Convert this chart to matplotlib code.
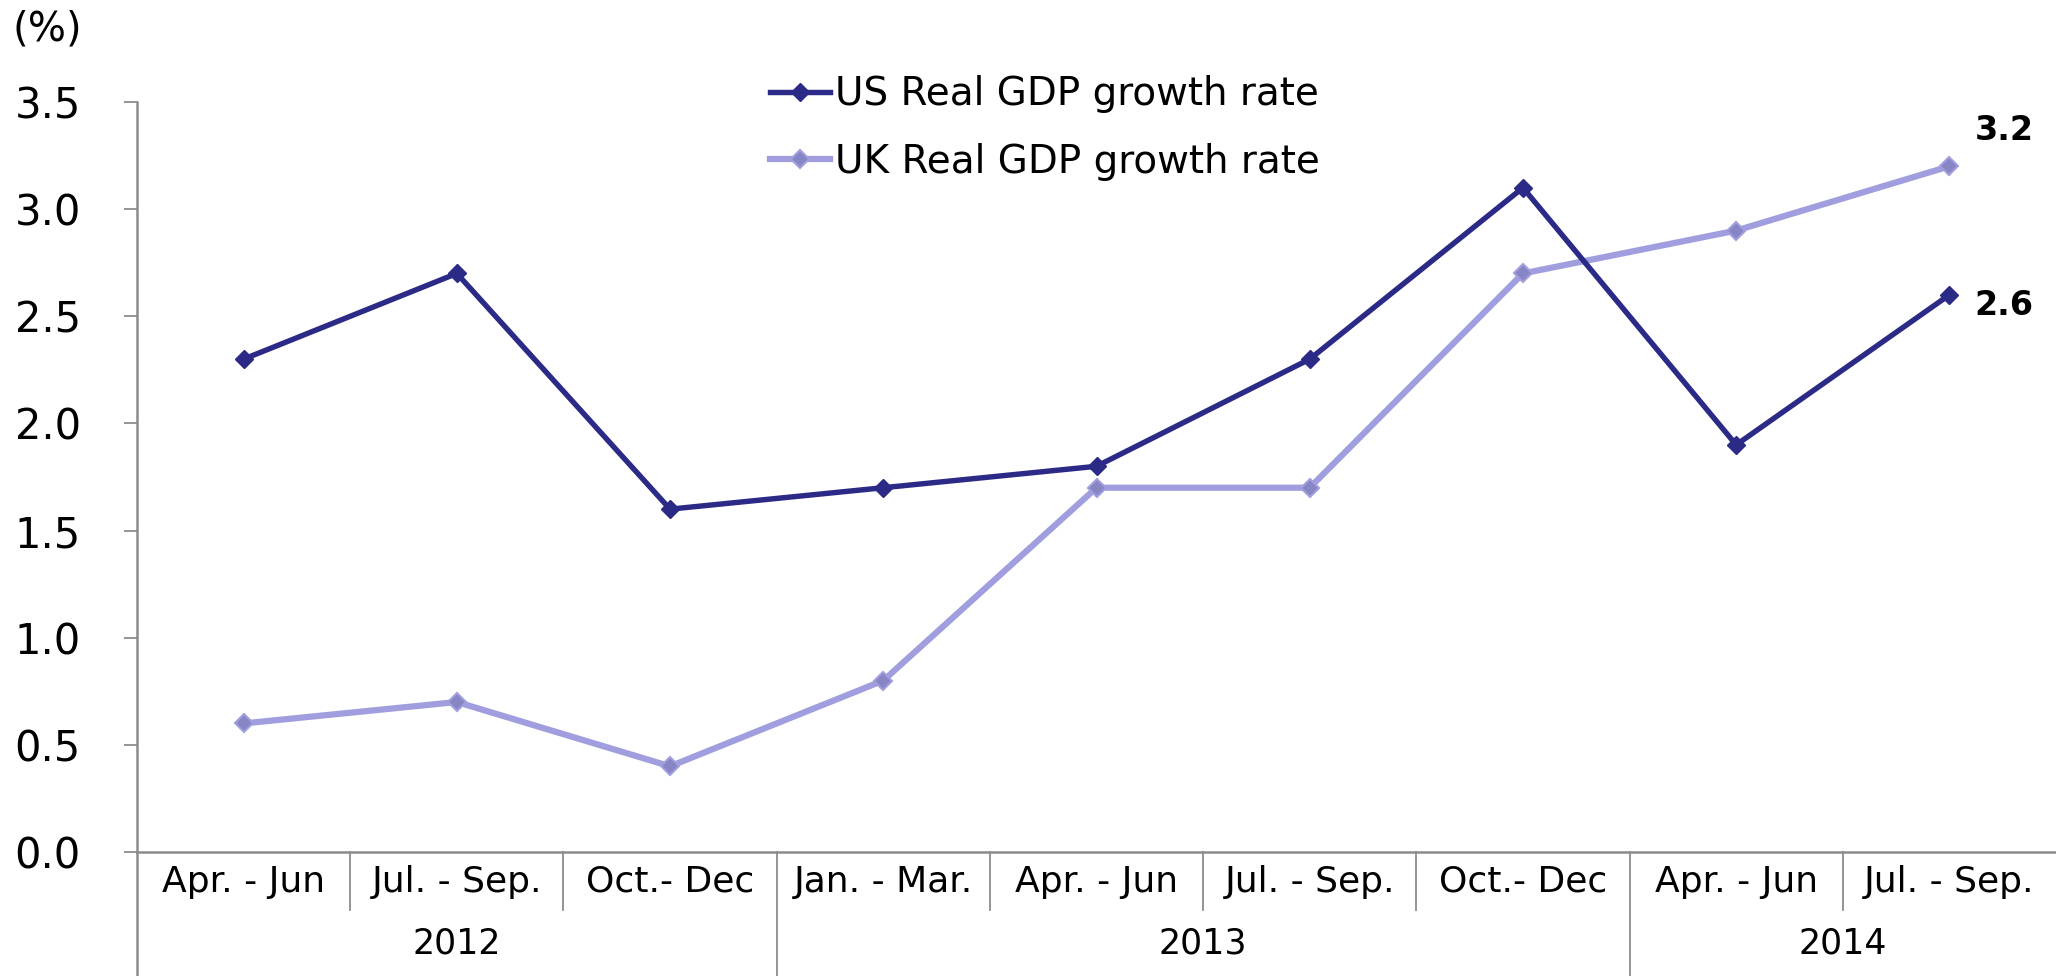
import numpy as np
import matplotlib
matplotlib.use("Agg")
import matplotlib.pyplot as plt
import matplotlib.transforms as mtrans

plt.rcParams['font.family'] = ['DejaVu Sans']

# quarters and years
quarters = ["Apr. - Jun", "Jul. - Sep.", "Oct.- Dec",
            "Jan. - Mar.", "Apr. - Jun", "Jul. - Sep.", "Oct.- Dec",
            "Apr. - Jun", "Jul. - Sep."]
years = ["2012", "2013", "2014"]
year_counts = [3, 4, 2]

us_gdp = [2.3, 2.7, 1.6, 1.7, 1.8, 2.3, 3.1, 1.9, 2.6]
uk_gdp = [0.6, 0.7, 0.4, 0.8, 1.7, 1.7, 2.7, 2.9, 3.2]

us_col = '#2b2a86'
uk_col = '#a09ede'
uk_mk = '#8785c4'
grey = '#8c8c8c'

W, H = 2056, 976
fig = plt.figure(figsize=(W / 100, H / 100), dpi=100)
left, bottom, top = 137 / W, 1 - 852 / H, 1 - 102 / H
ax = fig.add_axes([left, bottom, 1 - left, top - bottom])

x = np.arange(len(quarters))
ax.plot(x, us_gdp, color=us_col, lw=3.9, marker='D', ms=9,
        mfc=us_col, mec=us_col, label='US Real GDP growth rate', zorder=3)
ax.plot(x, uk_gdp, color=uk_col, lw=4.5, marker='D', ms=9,
        mfc=uk_mk, mec=uk_col, mew=1.5, label='UK Real GDP growth rate', zorder=2)

ax.set_xlim(-0.5, len(quarters) - 0.5)
ax.set_ylim(0, 3.5)
ax.set_yticks(np.arange(0, 3.51, 0.5))
ax.set_yticklabels([f"{v:.1f}" for v in np.arange(0, 3.51, 0.5)])
ax.tick_params(axis='y', direction='out', length=9.5, width=1.3, color=grey,
               labelsize=30, pad=31)
ax.set_xticks([])

for s in ['top', 'right']:
    ax.spines[s].set_visible(False)
for s in ['left', 'bottom']:
    ax.spines[s].set_color(grey)
    ax.spines[s].set_linewidth(1.8)

# category axis: labels and separator lines below the plot
tr = mtrans.blended_transform_factory(ax.transData, fig.transFigure)
y_short = 1 - 910 / H
for i, q in enumerate(quarters):
    ax.text(i, 1 - 882 / H, q, transform=tr, ha='center', va='center', fontsize=26)

bounds = np.cumsum(year_counts)[:-1] - 0.5
for b in np.arange(0.5, len(quarters) - 0.5, 1.0):
    y_end = 0 if b in bounds else y_short
    ax.plot([b, b], [bottom, y_end], transform=tr, color=grey, lw=1.3, clip_on=False)
ax.plot([-0.5, -0.5], [bottom, 0], transform=tr, color=grey, lw=1.8, clip_on=False)

start = 0
for yr, n in zip(years, year_counts):
    ax.text(start + (n - 1) / 2, 1 - 944 / H, yr, transform=tr,
            ha='center', va='center', fontsize=25)
    start += n

fig.text(12 / W, 1 - 30 / H, "(%)", ha='left', va='center', fontsize=29)

ax.annotate(f"{uk_gdp[-1]:.1f}", (x[-1], uk_gdp[-1]), xytext=(18, 26),
            textcoords='offset points', ha='left', va='center',
            fontsize=24, fontweight='bold', annotation_clip=False)
ax.annotate(f"{us_gdp[-1]:.1f}", (x[-1], us_gdp[-1]), xytext=(18, -8),
            textcoords='offset points', ha='left', va='center',
            fontsize=24, fontweight='bold', annotation_clip=False)

ax.legend(loc='center left', bbox_to_anchor=(770 / W, 1 - 128 / H),
          bbox_transform=fig.transFigure, frameon=False, fontsize=28,
          handlelength=1.55, handletextpad=0.12, labelspacing=0.76,
          borderpad=0, borderaxespad=0)

fig.savefig("out.png", dpi=100)
